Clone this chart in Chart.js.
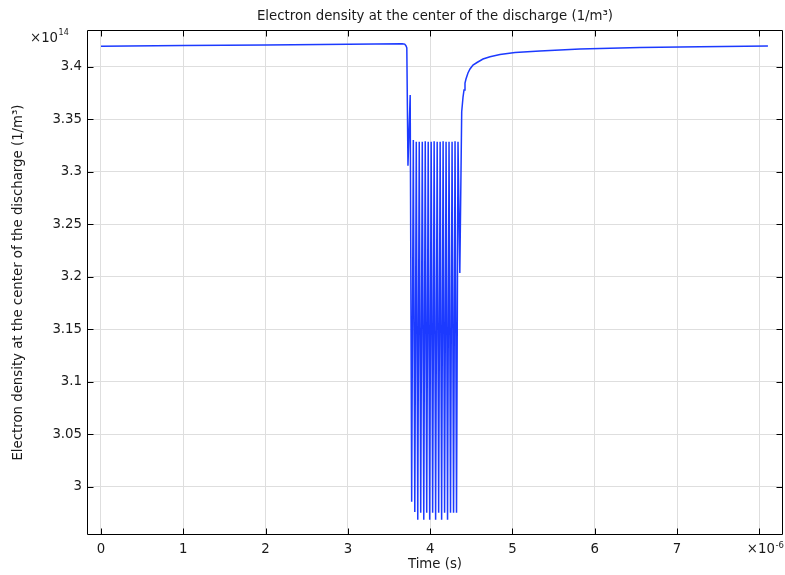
<!DOCTYPE html>
<html><head><meta charset="utf-8">
<script src="https://cdn.jsdelivr.net/npm/chart.js@4/dist/chart.umd.min.js"></script>
<style>html,body{margin:0;padding:0;background:#fff;} canvas{display:block;}</style>
</head><body>
<canvas id="c" width="785" height="575"></canvas>
<script>
// Time in microseconds (axis is x10^-6 s)
const timeUs = [
  0.000, 1.000, 2.000, 3.000, 3.660, 3.690, 3.705, 3.716, 3.730, 3.757, 3.775,
  3.795, 3.813, 3.831, 3.849, 3.867, 3.885, 3.904, 3.922, 3.940, 3.958,
  3.976, 3.994, 4.012, 4.030, 4.048, 4.066, 4.085, 4.103, 4.121, 4.139,
  4.157, 4.175, 4.193, 4.211, 4.229, 4.247, 4.266, 4.284, 4.302, 4.320,
  4.338, 4.360, 4.383, 4.399, 4.411, 4.423, 4.435, 4.459, 4.484, 4.520,
  4.569, 4.642, 4.727, 4.848, 5.031, 5.334, 5.820, 6.549, 7.278, 8.104
];
// Electron density in units of 10^14 1/m^3
const densityE14 = [
  3.4195, 3.4201, 3.4207, 3.4213, 3.4218, 3.4215, 3.4200, 3.4180, 3.3057, 3.3730, 2.9857,
  3.3302, 2.9760, 3.3286, 2.9686, 3.3286, 2.9751, 3.3286, 2.9686, 3.3290, 2.9751,
  3.3286, 2.9686, 3.3286, 2.9751, 3.3290, 2.9686, 3.3286, 2.9751, 3.3286, 2.9686,
  3.3290, 2.9751, 3.3286, 2.9686, 3.3286, 2.9751, 3.3286, 2.9751, 3.3290, 2.9751,
  3.3286, 3.2035, 3.3571, 3.3711, 3.3778, 3.3845, 3.3883, 3.3940, 3.3978, 3.4016,
  3.4040, 3.4073, 3.4095, 3.4116, 3.4135, 3.4150, 3.4169, 3.4183, 3.4190, 3.4197
];
const xTickValues = [0, 1, 2, 3, 4, 5, 6, 7, 8];
const yTickValues = [3.0, 3.05, 3.1, 3.15, 3.2, 3.25, 3.3, 3.35, 3.4];
const chartTitle = 'Electron density at the center of the discharge (1/m\u00B3)';
const yAxisTitle = 'Electron density at the center of the discharge (1/m\u00B3)';
const xAxisTitle = 'Time (s)';
const xExponent = '-6';
const yExponent = '14';

const FONT = 'DejaVu Sans';
const FS = 13.3;
const TXT = '#1a1a1a';

const points = timeUs.map((t, i) => ({x: t, y: densityE14[i]}));

const framePlugin = {
  id: 'frame',
  afterDatasetsDraw(chart) {
    const {ctx, chartArea: a, scales} = chart;
    ctx.save();
    ctx.strokeStyle = '#000';
    ctx.lineWidth = 1;
    ctx.beginPath();
    const L = Math.round(a.left) + 0.5, R = Math.round(a.right) - 0.5;
    const T = Math.round(a.top) + 0.5, B = Math.round(a.bottom) - 0.5;
    ctx.rect(L, T, R - L, B - T);
    const tl = 6;
    scales.x.ticks.forEach(tk => {
      const px = Math.round(scales.x.getPixelForValue(tk.value)) + 0.5;
      ctx.moveTo(px, B); ctx.lineTo(px, B - tl);
      ctx.moveTo(px, T); ctx.lineTo(px, T + tl);
    });
    scales.y.ticks.forEach(tk => {
      const py = Math.round(scales.y.getPixelForValue(tk.value)) + 0.5;
      ctx.moveTo(L, py); ctx.lineTo(L + tl, py);
      ctx.moveTo(R, py); ctx.lineTo(R - tl, py);
    });
    ctx.stroke();
    ctx.restore();
  },
  afterDraw(chart) {
    const {ctx, chartArea: a, scales} = chart;
    ctx.save();
    ctx.fillStyle = TXT;
    ctx.textBaseline = 'alphabetic';
    // y exponent
    ctx.font = FS + 'px "' + FONT + '"';
    ctx.textAlign = 'left';
    const yx = a.left - 57;
    ctx.fillText('\u00D710', yx, 41.7);
    const w1 = ctx.measureText('\u00D710').width;
    ctx.font = '8px "' + FONT + '"';
    ctx.fillText(yExponent, yx + w1 + 0.5, 35);
    // x exponent, in place of the last tick label
    ctx.font = FS + 'px "' + FONT + '"';
    const x8 = scales.x.getPixelForValue(xTickValues[xTickValues.length - 1]);
    const w2 = ctx.measureText('\u00D710').width;
    const xs = x8 + 1.5 - w2 / 2;
    ctx.fillText('\u00D710', xs, 553.3);
    ctx.font = '8.5px "' + FONT + '"';
    ctx.fillText(xExponent, xs + w2 + 0.5, 548.3);
    ctx.restore();
  }
};

new Chart(document.getElementById('c'), {
  type: 'line',
  data: {
    datasets: [{
      data: points,
      borderColor: 'rgb(28,58,255)',
      borderWidth: 1.5,
      pointRadius: 0,
      tension: 0,
      fill: false
    }]
  },
  options: {
    responsive: false,
    animation: false,
    devicePixelRatio: 1,
    layout: {padding: {left: 0, right: 2, top: 0, bottom: 0}},
    plugins: {
      legend: {display: false},
      tooltip: {enabled: false},
      title: {
        display: true,
        text: chartTitle,
        fullSize: false,
        color: TXT,
        font: {family: FONT, size: FS, weight: 'normal'},
        padding: {top: 8.2, bottom: 5.84}
      }
    },
    scales: {
      x: {
        type: 'linear',
        min: -0.170,
        max: 8.287,
        afterBuildTicks: s => { s.ticks = xTickValues.map(v => ({value: v})); },
        afterFit: s => { s.height = 40; s.paddingLeft = 0; s.paddingRight = 0; },
        ticks: {
          color: TXT,
          font: {family: FONT, size: FS},
          padding: 7,
          maxRotation: 0,
          autoSkip: false,
          includeBounds: false,
          callback: v => (v === xTickValues[xTickValues.length - 1] ? '' : String(v))
        },
        grid: {color: '#dedede', lineWidth: 1, drawTicks: false},
        border: {display: false},
        title: {
          display: true, text: xAxisTitle, color: TXT,
          font: {family: FONT, size: FS}, padding: {top: 0, bottom: 2.2}
        }
      },
      y: {
        type: 'linear',
        min: 2.9540,
        max: 3.43495,
        afterBuildTicks: s => { s.ticks = yTickValues.map(v => ({value: v})); },
        afterFit: s => { s.width = 87; },
        ticks: {
          color: TXT,
          font: {family: FONT, size: FS},
          padding: 5,
          autoSkip: false,
          includeBounds: false,
          callback: v => String(+v.toFixed(2))
        },
        grid: {color: '#dedede', lineWidth: 1, drawTicks: false},
        border: {display: false},
        title: {
          display: true, text: yAxisTitle, color: TXT,
          font: {family: FONT, size: FS}, padding: {top: 10.5, bottom: 0}
        }
      }
    }
  },
  plugins: [framePlugin]
});
</script>
</body></html>
